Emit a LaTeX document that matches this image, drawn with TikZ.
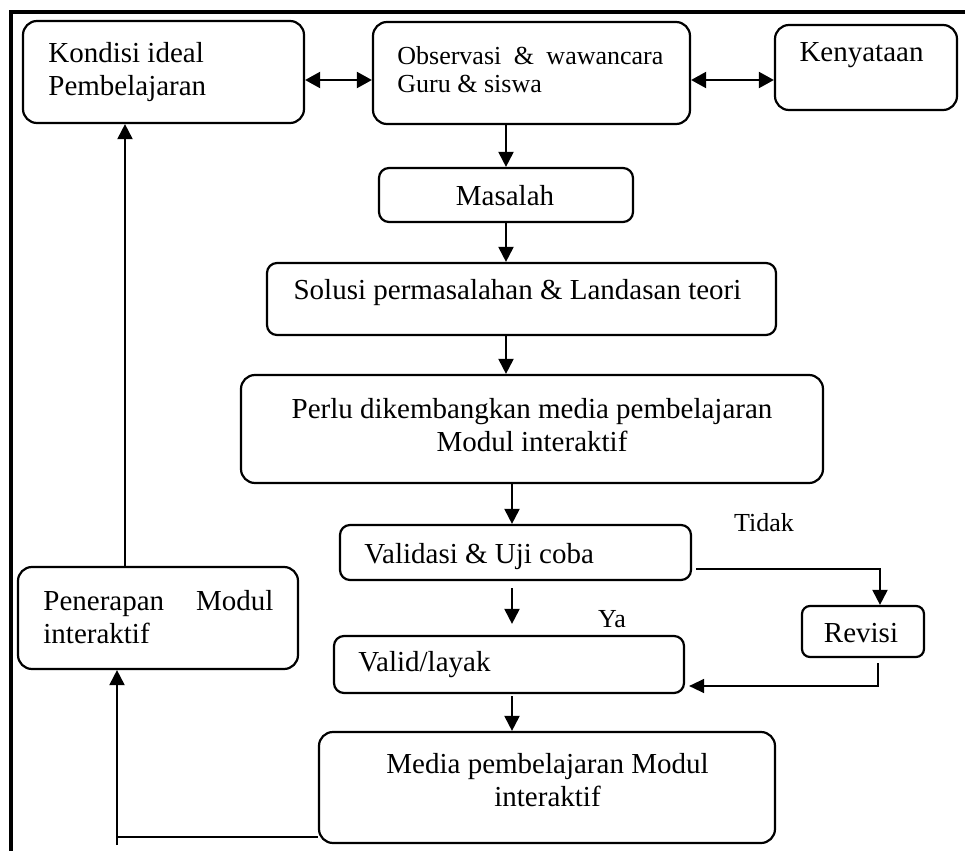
\documentclass[tikz,border=0pt]{standalone}
\usepackage{fontspec}
\setmainfont{Liberation Serif}
\usetikzlibrary{arrows.meta,calc}
\newcommand\bigf{\fontsize{14.5}{16.5}\selectfont}
\newcommand\midf{\fontsize{13}{14}\selectfont}
\begin{document}
\begin{tikzpicture}[x=0.5pt,y=-0.5pt,
  box/.style={draw, line width=1.1pt, rounded corners=7pt, inner sep=0pt},
  sbox/.style={box, rounded corners=5pt},
  txt/.style={inner sep=0pt, font=\bigf, align=left},
  ctxt/.style={inner sep=0pt, font=\bigf, align=center},
  lbl/.style={inner sep=0pt, font=\midf},
  conn/.style={line width=1pt},
  arr/.style={conn, -{Triangle[length=7.5pt,width=7.5pt]}},
  darr/.style={conn, {Triangle[length=7.5pt,width=8pt]}-{Triangle[length=7.5pt,width=8pt]}},
  thin/.style={line width=0.7pt, -{Triangle[length=7.5pt,width=7pt]}}]
\useasboundingbox (0,0) rectangle (965,851);
\fill[white] (0,0) rectangle (965,851);
% frame
\draw[line width=2pt, line join=miter] (965,12) -- (10.5,12) -- (10.5,851);
% boxes
\node[box, minimum width=140.5pt, minimum height=51pt] (kond) at (163.5,72) {};
\node[box, minimum width=158.5pt, minimum height=51pt] (obs) at (531.5,73) {};
\node[box, minimum width=91pt, minimum height=42.5pt] (ken) at (866,67.5) {};
\node[sbox, minimum width=127pt, minimum height=27pt] (mas) at (506,195) {};
\node[sbox, minimum width=254.5pt, minimum height=36pt] (sol) at (521.5,299) {};
\node[box, minimum width=291pt, minimum height=54pt] (perlu) at (532,429) {};
\node[sbox, minimum width=175.5pt, minimum height=27.5pt] (vali) at (515.5,552.5) {};
\node[sbox, minimum width=175pt, minimum height=28.5pt] (valid) at (509,664.5) {};
\node[sbox, rounded corners=4pt, minimum width=61pt, minimum height=25.5pt] (rev) at (863,631.5) {};
\node[box, minimum width=228pt, minimum height=55.5pt] (media) at (547,787.5) {};
\node[box, minimum width=140pt, minimum height=51pt] (pener) at (158,618) {};
% texts
\node[txt, anchor=west] (kondt) at (48,72.5) {Kondisi ideal\\Pembelajaran};
\node[txt, font=\midf, anchor=west] (obst) at (397,70) {\hbox to 133pt{Observasi\hfill\&\hfill wawancara}\\Guru \& siswa};
\node[ctxt] (kent) at (861.5,55) {Kenyataan};
\node[ctxt] (mast) at (505,196) {Masalah};
\node[ctxt] (solt) at (517.5,293) {Solusi permasalahan \& Landasan teori};
\node[ctxt] (perlut) at (532,425.5) {Perlu dikembangkan media pembelajaran\\Modul interaktif};
\node[txt, anchor=west] (valit) at (364,557) {Validasi \& Uji coba};
\node[txt, anchor=west] (validt) at (358,665) {Valid/layak};
\node[ctxt] (revt) at (861,633) {Revisi};
\node[ctxt] (mediat) at (547.5,780.5) {Media pembelajaran Modul\\interaktif};
\node[txt, anchor=west] (penert) at (43,617) {\hbox to 115pt{Penerapan\hfill Modul}\\interaktif};
\node[lbl] (tidak) at (764,523) {Tidak};
\node[lbl] (ya) at (612,619) {Ya};
% helper coordinates
\coordinate (xcol) at (512,0);
\coordinate (mp) at (117,845);
\coordinate (mc) at ($(media.west)+(0,49.5)$);
% connectors
\draw[darr] ($(kond.east)+(0,8)$) -- ($(obs.west)+(0,7)$);
\draw[darr] ($(obs.east)+(0,7)$) -- ($(ken.west)+(0,12.5)$);
\draw[arr] (obs.south -| mas.north) -- (mas.north);
\draw[arr] (mas.south) -- (mas.south |- sol.north);
\draw[arr] (sol.south -| mas.south) -- (perlu.north -| mas.south);
\draw[arr] (perlu.south -| xcol) -- (vali.north -| xcol);
\draw[arr, shorten <=3.5pt, shorten >=5.5pt] (vali.south -| xcol) -- (valid.north -| xcol);
\draw[arr, shorten <=1pt] (valid.south -| xcol) -- (media.north -| xcol);
\draw[arr] ($(vali.east)+(4,16.5)$) -| ($(rev.north)+(17,0)$);
\draw[thin] ($(rev.south)+(15,5)$) |- ($(valid.east)+(4,21.5)$);
\draw[conn] (mc) -- (mc -| mp);
\draw[arr] (mp) -- (mp |- pener.south);
\draw[arr] ($(pener.north)+(-33,0)$) -- ($(kond.south)+(-38.5,0)$);
\end{tikzpicture}
\end{document}
